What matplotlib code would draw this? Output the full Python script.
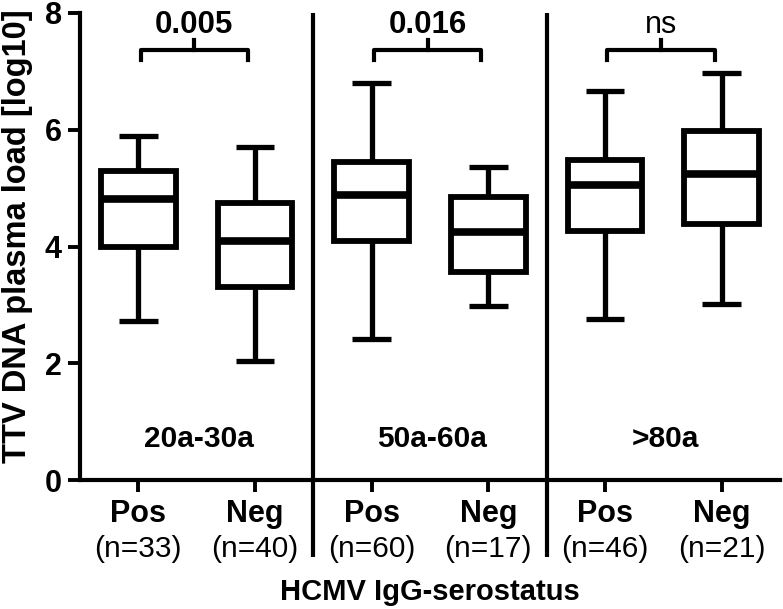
import matplotlib
matplotlib.use("Agg")
import matplotlib.pyplot as plt
from matplotlib.transforms import blended_transform_factory

plt.rcParams['font.family'] = ['Liberation Sans', 'DejaVu Sans']

# ---- data ----
status = ["Pos", "Neg", "Pos", "Neg", "Pos", "Neg"]
n_counts = [33, 40, 60, 17, 46, 21]
age_groups = ["20a-30a", "50a-60a", ">80a"]
p_values = ["0.005", "0.016", "ns"]
whisker_low = [2.72, 2.04, 2.41, 2.98, 2.76, 3.01]
q1 = [3.99, 3.30, 4.10, 3.56, 4.26, 4.38]
median = [4.82, 4.10, 4.88, 4.24, 5.05, 5.24]
q3 = [5.30, 4.75, 5.44, 4.85, 5.49, 5.98]
whisker_high = [5.89, 5.70, 6.80, 5.36, 6.66, 6.97]
y_ticks = [0, 2, 4, 6, 8]

W, H = 783, 609
fig = plt.figure(figsize=(W / 100, H / 100), dpi=100)
ax = fig.add_axes([80 / W, (H - 480) / H, 700 / W, 467 / H])

positions = list(range(1, len(status) + 1))
stats = []
for i in range(len(status)):
    stats.append(dict(whislo=whisker_low[i], q1=q1[i], med=median[i],
                      q3=q3[i], whishi=whisker_high[i], fliers=[]))

ax.bxp(stats, positions=positions, widths=0.64, capwidths=0.33,
       showfliers=False, patch_artist=True,
       boxprops=dict(facecolor='white', edgecolor='black', linewidth=4.2),
       whiskerprops=dict(color='black', linewidth=3.8, solid_capstyle='butt'),
       capprops=dict(color='black', linewidth=3.8, solid_capstyle='butt'),
       medianprops=dict(color='black', linewidth=5.5, solid_capstyle='butt'))

ax.set_xlim(0.5, 6.5)
ax.set_ylim(0, 8)
ax.set_yticks(y_ticks)
ax.set_yticklabels([str(t) for t in y_ticks], fontsize=22, fontweight='bold')
ax.set_xticks(positions)
ax.set_xticklabels([])
for s in ['top', 'right']:
    ax.spines[s].set_visible(False)
for s in ['left', 'bottom']:
    ax.spines[s].set_linewidth(3.0)
    ax.spines[s].set_capstyle('projecting')
ax.tick_params(axis='y', length=9, width=2.8, pad=4)
ax.tick_params(axis='x', length=8.5, width=2.8)

# separators
trans = blended_transform_factory(ax.transData, ax.transAxes)
for sep in [2.5, 4.5]:
    ax.plot([sep, sep], [-0.165, 1.0], transform=trans,
            color='black', lw=3.0, clip_on=False, solid_capstyle='butt')

for i, x in enumerate(positions):
    ax.text(x, -0.073, status[i], transform=trans, ha='center', va='center',
            fontsize=22, fontweight='bold')
    ax.text(x, -0.148, f"(n={n_counts[i]})", transform=trans, ha='center', va='center',
            fontsize=21.5)

ax.text(0.5, -0.24, "HCMV IgG-serostatus", transform=ax.transAxes, ha='center',
        va='center', fontsize=21, fontweight='bold')
fig.text(2 / W, (H - 236) / H, "TTV DNA plasma load [log10]", rotation=90,
         ha='left', va='center', fontsize=23.5, fontweight='bold')

# group labels and brackets
for g in range(3):
    left = positions[2 * g]
    right = positions[2 * g + 1]
    mid = (left + right) / 2
    ax.text(mid + 0.02, 0.565, age_groups[g], ha='center', va='baseline',
            fontsize=21.5, fontweight='bold')
    xl, xr = left + 0.02, right - 0.06
    xm = (xl + xr) / 2
    ax.plot([xl, xl, xr, xr], [7.2, 7.36, 7.36, 7.2], color='black', lw=3.0,
            clip_on=False, solid_joinstyle='round')
    ax.plot([xm, xm], [7.36, 7.53], color='black', lw=3.0, clip_on=False)
    if p_values[g] == 'ns':
        ax.text(xm, 7.65, p_values[g], ha='center', va='baseline', fontsize=22)
    else:
        ax.text(xm, 7.65, p_values[g], ha='center', va='baseline', fontsize=22.5,
                fontweight='bold')

fig.savefig("out.png", dpi=100)
